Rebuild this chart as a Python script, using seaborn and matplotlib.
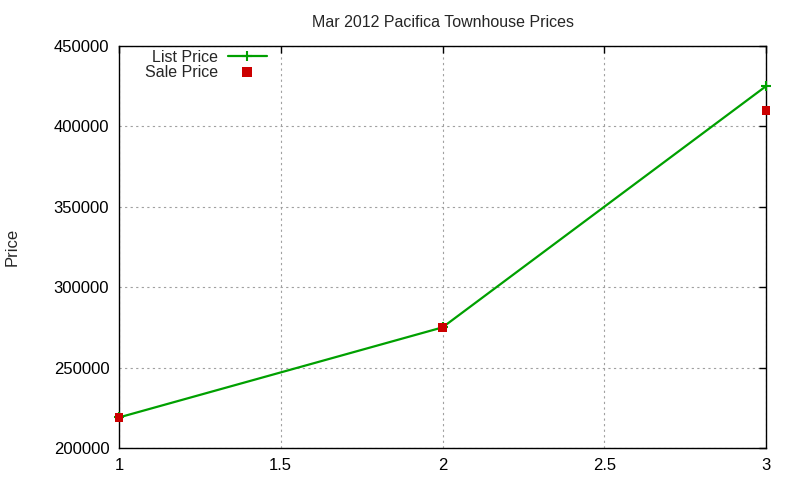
import matplotlib
matplotlib.use("Agg")
import matplotlib.pyplot as plt
from matplotlib.lines import Line2D
import seaborn as sns
import pandas as pd

x_vals = [1, 2, 3]
list_price = [219000, 275000, 425000]
sale_price = [219000, 275000, 410000]
x_ticks = [1, 1.5, 2, 2.5, 3]
y_ticks = [200000, 250000, 300000, 350000, 400000, 450000]

sns.set_style("white")
plt.rcParams['font.family'] = ['Liberation Sans', 'DejaVu Sans']

GREEN = "#00a000"
RED = "#cc0000"

df = pd.DataFrame({"x": x_vals, "list": list_price, "sale": sale_price})

fig = plt.figure(figsize=(8, 4.8), dpi=100)
ax = fig.add_axes([0.14875, 0.0667, 0.80875, 0.8375])

sns.lineplot(data=df, x="x", y="list", ax=ax, color=GREEN, linewidth=1.6,
             marker="+", markersize=7, markeredgewidth=1.5,
             markeredgecolor=GREEN, legend=False, clip_on=False, zorder=4)
sns.scatterplot(data=df, x="x", y="sale", ax=ax, color=RED, marker="s",
                s=40, edgecolor="none", legend=False, zorder=5, clip_on=False)

ax.set_xlim(1, 3)
ax.set_ylim(200000, 450000)
ax.set_xticks(x_ticks)
ax.set_xticklabels(["1", "1.5", "2", "2.5", "3"])
ax.set_yticks(y_ticks)
ax.set_yticklabels([str(v) for v in y_ticks])
ax.grid(True, color="#a0a0a0", linestyle=(0, (2, 3)), linewidth=0.8)
ax.tick_params(direction="in", length=5, width=1, top=True, right=True,
               labelsize=12, colors="black", pad=7)
for s in ax.spines.values():
    s.set_color("black")
    s.set_linewidth(1)

ax.set_xlabel("")
ax.set_ylabel("Price", fontsize=12)
ax.yaxis.set_label_coords(-0.153, 0.5)
ax.set_title("Mar 2012 Pacifica Townhouse Prices", fontsize=11.5, pad=14)

handles = [
    Line2D([], [], color=GREEN, linewidth=1.6, marker="+", markersize=7,
           markeredgewidth=1.5),
    Line2D([], [], color=RED, linestyle="none", marker="s", markersize=6.5,
           markeredgewidth=0),
]
ax.legend(handles, ["List Price", "Sale Price"], loc="upper left",
          bbox_to_anchor=(0.03, 1.007), frameon=False,
          markerfirst=False, fontsize=11.5, handlelength=2.5, borderaxespad=0.0,
          labelspacing=0.05, handletextpad=0.6)

fig.savefig("out.png", dpi=100)
